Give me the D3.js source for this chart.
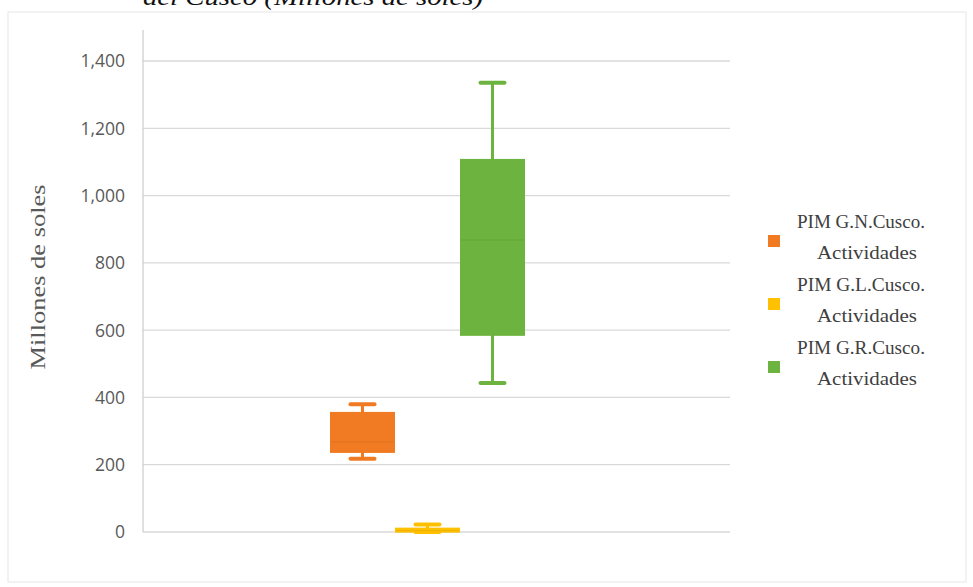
<!DOCTYPE html>
<html>
<head>
<meta charset="utf-8">
<script src="https://cdn.jsdelivr.net/npm/d3@7"></script>
<style>
  html, body { margin: 0; padding: 0; background: #ffffff; }
  svg { display: block; }
</style>
</head>
<body>
<svg id="chart" width="973" height="587"></svg>
<script>
// ---- data ----
const seriesNames = ["PIM G.N.Cusco. Actividades", "PIM G.L.Cusco. Actividades", "PIM G.R.Cusco. Actividades"];
const legendLine1 = ["PIM G.N.Cusco.", "PIM G.L.Cusco.", "PIM G.R.Cusco."];
const legendLine2 = ["Actividades", "Actividades", "Actividades"];
const seriesColors = ["#F07B23", "#FFC000", "#6DB33F"];
const mins    = [218,  0,  443];
const q1s     = [238,  1,  586];
const medians = [268,  4,  868];
const q3s     = [354, 10, 1106];
const maxs    = [380, 22, 1335];
const yTicks = [0, 200, 400, 600, 800, 1000, 1200, 1400];
const yTitle = "Millones de soles";
const topTitle = "del Cusco (Millones de soles)";

// ---- layout ----
const svg = d3.select("#chart");
const plot = { left: 143, right: 730, top: 30, bottom: 532 };

// frame
svg.append("rect").attr("x", 8).attr("y", 12).attr("width", 958).attr("height", 570)
  .attr("fill", "#ffffff").attr("stroke", "#e6e6e6").attr("stroke-width", 1);

// cut-off caption at the top
svg.append("text").attr("x", 143).attr("y", 5)
  .attr("font-family", "'Liberation Serif', 'Times New Roman', serif")
  .attr("font-style", "italic").attr("font-size", 24).attr("fill", "#111")
  .attr("textLength", 340).attr("lengthAdjust", "spacingAndGlyphs")
  .text(topTitle);

const y = d3.scaleLinear().domain([0, 1400]).range([plot.bottom, plot.top + 31]);
const x = d3.scaleBand().domain(seriesNames).range([330, 525]).paddingInner(0);

// gridlines
svg.append("g").selectAll("line").data(yTicks).join("line")
  .attr("x1", plot.left).attr("x2", plot.right)
  .attr("y1", d => y(d)).attr("y2", d => y(d))
  .attr("stroke", "#d9d9d9").attr("stroke-width", 1.3);

// y axis line
svg.append("line").attr("x1", plot.left).attr("x2", plot.left)
  .attr("y1", plot.top).attr("y2", plot.bottom)
  .attr("stroke", "#d0d0d0").attr("stroke-width", 1.3);

// y axis labels
const yAxis = d3.axisLeft(y).tickValues(yTicks).tickSize(0).tickPadding(0)
  .tickFormat(d3.format(","));
const gy = svg.append("g").attr("transform", `translate(${plot.left - 18},0)`).call(yAxis);
gy.select(".domain").remove();
gy.selectAll("text").attr("font-family", "'Open Sans', 'Liberation Sans', Arial, sans-serif")
  .attr("font-size", 17.5).attr("fill", "#595959").attr("dy", "0.34em");

// y title
svg.append("text")
  .attr("transform", `translate(45,277) rotate(-90)`)
  .attr("text-anchor", "middle")
  .attr("font-family", "'Liberation Serif', 'Times New Roman', serif")
  .attr("font-size", 20).attr("fill", "#595959")
  .attr("textLength", 185).attr("lengthAdjust", "spacingAndGlyphs")
  .text(yTitle);

// boxes
const data = seriesNames.map((s, i) => ({
  name: s, color: seriesColors[i],
  min: mins[i], q1: q1s[i], med: medians[i], q3: q3s[i], max: maxs[i]
}));
const bw = x.bandwidth() - 2;
const capW = 24;
const g = svg.append("g").selectAll("g").data(data).join("g")
  .attr("transform", d => `translate(${x(d.name) + x.bandwidth() / 2},0)`);

// whiskers
g.append("line").attr("x1", 0).attr("x2", 0)
  .attr("y1", d => y(d.max)).attr("y2", d => y(d.min))
  .attr("stroke", d => d.color).attr("stroke-width", 3);
// caps
g.append("line").attr("x1", -capW / 2).attr("x2", capW / 2)
  .attr("y1", d => y(d.max)).attr("y2", d => y(d.max))
  .attr("stroke", d => d.color).attr("stroke-width", 4).attr("stroke-linecap", "round");
g.append("line").attr("x1", -capW / 2).attr("x2", capW / 2)
  .attr("y1", d => y(d.min)).attr("y2", d => y(d.min))
  .attr("stroke", d => d.color).attr("stroke-width", 4).attr("stroke-linecap", "round");
// box
g.append("rect").attr("x", -bw / 2).attr("width", bw)
  .attr("y", d => y(d.q3)).attr("height", d => Math.max(2, y(d.q1) - y(d.q3)))
  .attr("fill", d => d.color).attr("stroke", d => d.color).attr("stroke-width", 2);
// median
g.append("line").attr("x1", -bw / 2).attr("x2", bw / 2)
  .attr("y1", d => y(d.med)).attr("y2", d => y(d.med))
  .attr("stroke", d => d3.color(d.color).darker(0.2)).attr("stroke-width", 1);

// legend
const lg = svg.append("g").selectAll("g").data(data).join("g")
  .attr("transform", (d, i) => `translate(0,${i * 63})`);
lg.append("rect").attr("x", 768).attr("y", 235).attr("width", 12).attr("height", 12)
  .attr("fill", d => d.color);
lg.append("text").attr("x", 861).attr("y", 228).attr("text-anchor", "middle")
  .attr("font-family", "'Liberation Serif', 'Times New Roman', serif")
  .attr("font-size", 19.5).attr("fill", "#404040")
  .attr("textLength", 128).attr("lengthAdjust", "spacingAndGlyphs")
  .text((d, i) => legendLine1[i]);
lg.append("text").attr("x", 867).attr("y", 259).attr("text-anchor", "middle")
  .attr("font-family", "'Liberation Serif', 'Times New Roman', serif")
  .attr("font-size", 19.5).attr("fill", "#404040")
  .attr("textLength", 100).attr("lengthAdjust", "spacingAndGlyphs")
  .text((d, i) => legendLine2[i]);
</script>
</body>
</html>
